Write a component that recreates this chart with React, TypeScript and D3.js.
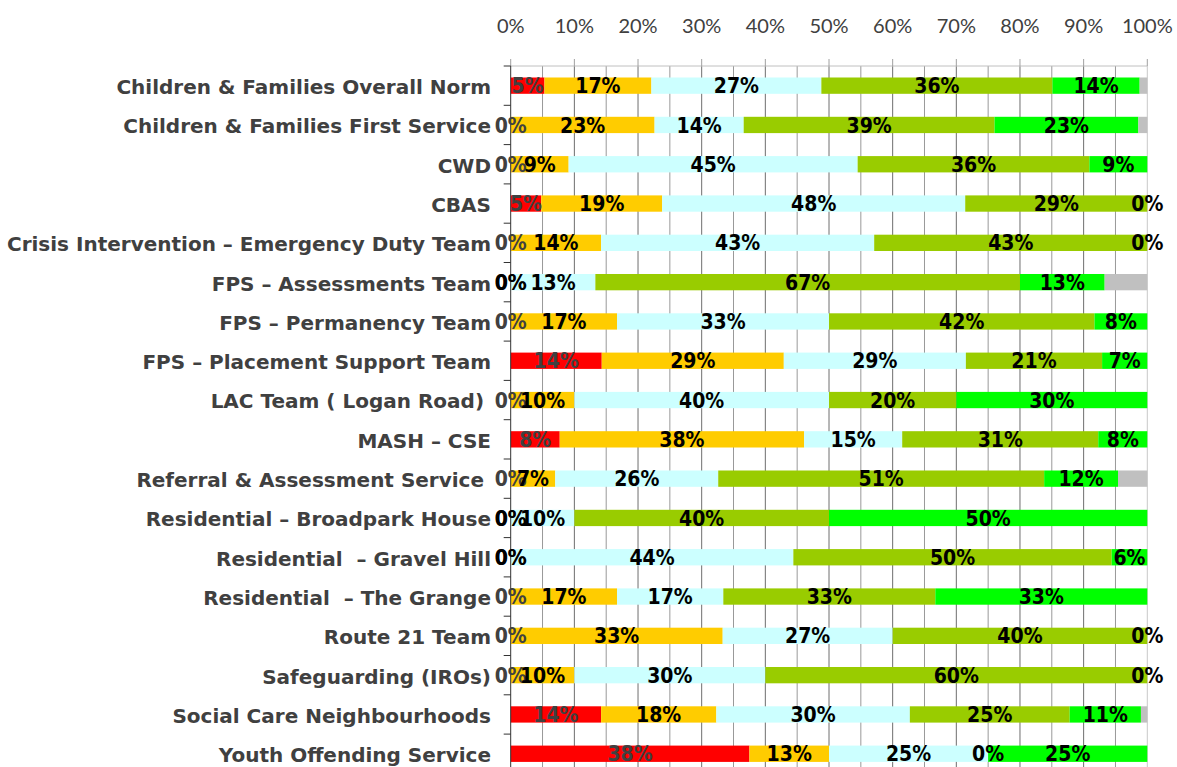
import * as d3 from "d3";
import { useEffect, useRef } from "react";

// Categories (top to bottom) – trailing / double spaces kept as in the source
const categories = [
  "Children & Families Overall Norm",
  "Children & Families First Service",
  "CWD",
  "CBAS",
  "Crisis Intervention – Emergency Duty Team",
  "FPS – Assessments Team",
  "FPS – Permanency Team",
  "FPS – Placement Support Team",
  "LAC Team ( Logan Road) ",
  "MASH – CSE",
  "Referral & Assessment Service ",
  "Residential – Broadpark House",
  "Residential  – Gravel Hill",
  "Residential  – The Grange",
  "Route 21 Team",
  "Safeguarding (IROs)",
  "Social Care Neighbourhoods",
  "Youth Offending Service",
];

// Series values in percent
const red = [5.3, 0, 0, 4.8, 0, 0, 0, 14.3, 0, 7.7, 0, 0, 0, 0, 0, 0, 14.2, 37.5];
const amber = [16.8, 22.6, 9.1, 19.0, 14.2, 0, 16.7, 28.6, 10, 38.4, 7.0, 0, 0, 16.7, 33.3, 10, 18.1, 12.5];
const cyan = [26.7, 14.0, 45.4, 47.6, 42.9, 13.3, 33.3, 28.6, 40, 15.4, 25.6, 10, 44.4, 16.7, 26.7, 30, 30.4, 25];
const olive = [36.3, 39.4, 36.4, 28.6, 42.9, 66.7, 41.7, 21.4, 20, 30.8, 51.2, 40, 50, 33.3, 40, 60, 25.1, 0];
const bright = [13.7, 22.6, 9.1, 0, 0, 13.3, 8.3, 7.1, 30, 7.7, 11.6, 50, 5.6, 33.3, 0, 0, 11.2, 25];
const grey = [1.2, 1.4, 0, 0, 0, 6.7, 0, 0, 0, 0, 4.6, 0, 0, 0, 0, 0, 1.0, 0];

const xTicks = [0, 10, 20, 30, 40, 50, 60, 70, 80, 90, 100];

const WIDTH = 1177;
const HEIGHT = 767;

const keys = ["red", "amber", "cyan", "olive", "bright", "grey"];
const colors = {
  red: "#ff0000",
  amber: "#ffcc00",
  cyan: "#ccffff",
  olive: "#99cc00",
  bright: "#00ff00",
  grey: "#c0c0c0",
};

const StackedChart = () => {
  const svgRef = useRef<SVGSVGElement>(null);

  useEffect(() => {
    const svg = d3.select(svgRef.current);
    svg.selectAll("*").remove();

    const left = 510.7;
    const right = 1147.3;
    const top = 66;
    const step = 39.3;

    const rows = categories.map((c, i) => ({
      cat: c,
      red: red[i],
      amber: amber[i],
      cyan: cyan[i],
      olive: olive[i],
      bright: bright[i],
      grey: grey[i],
    }));

    const x = d3.scaleLinear().domain([0, 100]).range([left, right]);
    const y = d3
      .scaleBand()
      .domain(categories)
      .range([top, top + step * categories.length])
      .paddingInner(0.585)
      .paddingOuter(0.2925);

    // vertical gridlines every 5%
    const grid = svg.append("g");
    d3.range(5, 100, 5).forEach((v) => {
      grid
        .append("line")
        .attr("x1", x(v))
        .attr("x2", x(v))
        .attr("y1", top)
        .attr("y2", HEIGHT)
        .attr("stroke", v % 10 === 0 ? "#6e6e6e" : "#999")
        .attr("stroke-width", 1);
    });
    // right border + top border
    grid
      .append("line")
      .attr("x1", x(100))
      .attr("x2", x(100))
      .attr("y1", top)
      .attr("y2", HEIGHT)
      .attr("stroke", "#c8c8c8");
    grid
      .append("line")
      .attr("x1", left)
      .attr("x2", right)
      .attr("y1", top)
      .attr("y2", top)
      .attr("stroke", "#c0c0c0");

    // top ticks + labels
    const topAxis = svg.append("g");
    xTicks.forEach((t) => {
      topAxis
        .append("line")
        .attr("x1", x(t))
        .attr("x2", x(t))
        .attr("y1", top - 7)
        .attr("y2", top)
        .attr("stroke", "#a0a0a0");
      topAxis
        .append("text")
        .attr("x", x(t))
        .attr("y", 33)
        .attr("text-anchor", "middle")
        .attr("font-family", "Lato, 'DejaVu Sans', sans-serif")
        .attr("font-weight", 400)
        .attr("font-size", 20)
        .attr("fill", "#404040")
        .text(t + "%");
    });

    // stacked bars
    const series = d3.stack().keys(keys)(rows as any);
    const bars = svg.append("g");
    series.forEach((s) => {
      bars
        .append("g")
        .attr("fill", colors[s.key])
        .selectAll("rect")
        .data(s)
        .join("rect")
        .attr("x", (d) => x(d[0]))
        .attr("y", (d: any) => y(d.data.cat))
        .attr("width", (d) => x(d[1]) - x(d[0]))
        .attr("height", y.bandwidth());
    });

    // left axis
    const axis = svg.append("g");
    axis
      .append("line")
      .attr("x1", left)
      .attr("x2", left)
      .attr("y1", top)
      .attr("y2", HEIGHT)
      .attr("stroke", "#333");
    d3.range(categories.length + 1).forEach((i) => {
      axis
        .append("line")
        .attr("x1", left - 7)
        .attr("x2", left)
        .attr("y1", top + i * step)
        .attr("y2", top + i * step)
        .attr("stroke", "#333");
    });

    // category labels
    svg
      .append("g")
      .selectAll("text")
      .data(categories)
      .join("text")
      .attr("x", 491)
      .attr("y", (d) => y(d) + y.bandwidth() / 2)
      .attr("dy", "0.42em")
      .attr("text-anchor", "end")
      .attr("font-family", "'DejaVu Sans', sans-serif")
      .attr("font-weight", "bold")
      .attr("font-size", 20)
      .attr("fill", "#404040")
      .style("white-space", "pre")
      .text((d) => d);

    // data labels (all series except grey)
    const fmt = d3.format(".0f");
    const labels = svg.append("g");
    series
      .filter((s) => s.key !== "grey")
      .forEach((s) => {
        labels
          .append("g")
          .selectAll("text")
          .data(s)
          .join("text")
          .attr("x", (d) => x((d[0] + d[1]) / 2))
          .attr("y", (d: any) => y(d.data.cat) + y.bandwidth() / 2)
          .attr("dy", "0.36em")
          .attr("text-anchor", "middle")
          .attr("font-family", "'DejaVu Sans Condensed', 'Liberation Sans', sans-serif")
          .attr("font-stretch", "condensed")
          .attr("font-weight", "bold")
          .attr("font-size", 21)
          .attr("fill", s.key === "red" ? "#404040" : "#000")
          .text((d) => fmt(d[1] - d[0]) + "%");
      });
  }, []);

  return (
    <svg
      ref={svgRef}
      width={WIDTH}
      height={HEIGHT}
      style={{ position: "absolute", left: 0, top: 0, background: "#fff" }}
    ></svg>
  );
};

export default function App() {
  return <StackedChart />;
}
